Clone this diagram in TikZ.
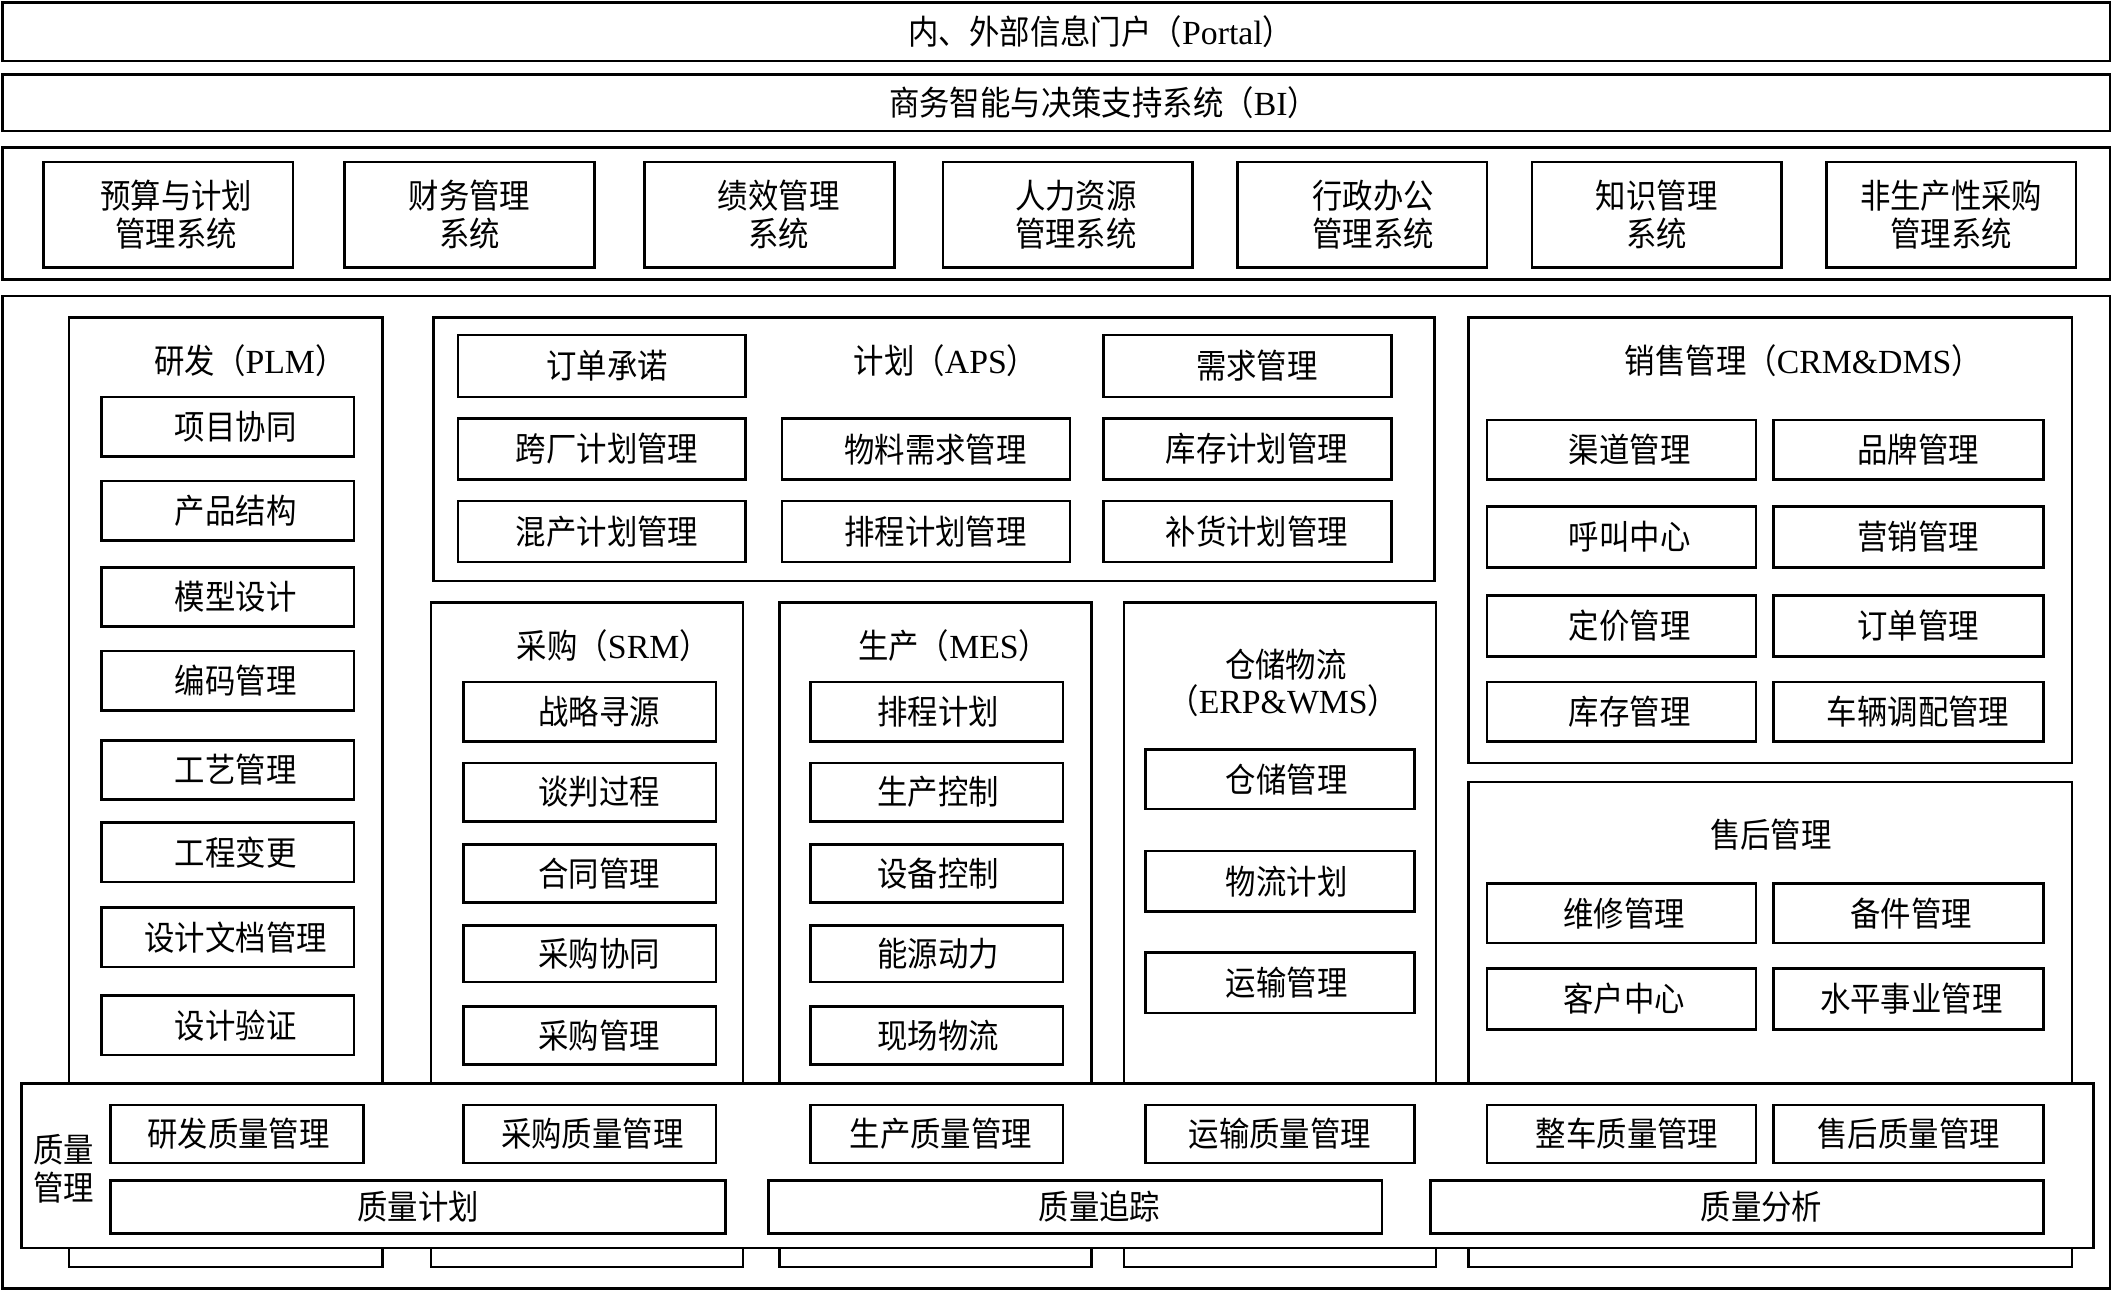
\documentclass[tikz,border=0pt]{standalone}
\usepackage{fontspec}
\setmainfont{Liberation Serif}
\newfontfamily\cjk[FakeStretch=0.9]{Noto Sans CJK SC}
\newcommand\ltn[1]{{\rmfamily #1}}
\tikzset{
  box/.style={draw, line width=1.9pt, fill=white, inner sep=0pt},
  cont/.style={draw, line width=1.9pt, fill=white, inner sep=0pt},
  lbl/.style={inner sep=0pt, align=center, font=\cjk\fontsize{25}{28}\selectfont},
  ttl/.style={inner sep=0pt, align=center, font=\cjk\fontsize{25}{28}\selectfont}
}
\newcommand\bx[7][0]{\node[box, minimum width={(#5-#3)*1pt}, minimum height={(#6-#4)*1pt}] (#2) at ({(#3+#5)/2},{(#4+#6)/2}) {};
  \node[lbl] (#2t) at ([xshift=#1pt]#2.center) {#7};}
\newcommand\ct[5]{\node[cont, minimum width={(#4-#2)*1pt}, minimum height={(#5-#3)*1pt}] (#1) at ({(#2+#4)/2},{(#3+#5)/2}) {};}
\begin{document}
\begin{tikzpicture}[x=1pt,y=-1pt]
\useasboundingbox (0,0) rectangle (1568,956);
% top bands
\bx[33]{portal}{2}{2}{1562}{45}{内、外部信息门户（\ltn{Portal}）}
\bx[35]{bi}{2}{55}{1562}{97}{商务智能与决策支持系统（\ltn{BI}）}
\ct{band}{2}{109}{1562}{207}
\bx[6]{s1}{32}{120}{217}{198}{预算与计划\\管理系统}
\bx{s2}{255}{120}{440}{198}{财务管理\\系统}
\bx[7]{s3}{477}{120}{662}{198}{绩效管理\\系统}
\bx[6]{s4}{698}{120}{883}{198}{人力资源\\管理系统}
\bx[8]{s5}{916}{120}{1101}{198}{行政办公\\管理系统}
\bx{s6}{1134}{120}{1319}{198}{知识管理\\系统}
\bx{s7}{1352}{120}{1537}{198}{非生产性采购\\管理系统}
% main band
\ct{main}{2}{219}{1562}{954}
% PLM
\ct{plm}{51}{235}{283}{938}
\node[ttl] (plmt) at (185,267) {研发（\ltn{PLM}）};
\bx[6]{p1}{75}{294}{262}{338}{项目协同}
\bx[6]{p2}{75}{356}{262}{400}{产品结构}
\bx[6]{p3}{75}{420}{262}{464}{模型设计}
\bx[6]{p4}{75}{482}{262}{526}{编码管理}
\bx[6]{p5}{75}{548}{262}{592}{工艺管理}
\bx[6]{p6}{75}{609}{262}{653}{工程变更}
\bx[6]{p7}{75}{672}{262}{716}{设计文档管理}
\bx[6]{p8}{75}{737}{262}{781}{设计验证}
% APS
\ct{aps}{321}{235}{1062}{430}
\node[ttl] (apst) at (700,267) {计划（\ltn{APS}）};
\bx[4]{a1}{339}{248}{552}{294}{订单承诺}
\bx[7]{a2}{817}{248}{1030}{294}{需求管理}
\bx[4]{a3}{339}{310}{552}{355}{跨厂计划管理}
\bx[7]{a4}{579}{310}{792}{355}{物料需求管理}
\bx[7]{a5}{817}{310}{1030}{355}{库存计划管理}
\bx[4]{a6}{339}{371}{552}{416}{混产计划管理}
\bx[7]{a7}{579}{371}{792}{416}{排程计划管理}
\bx[7]{a8}{817}{371}{1030}{416}{补货计划管理}
% SRM
\ct{srm}{319}{446}{550}{938}
\node[ttl] (srmt) at (454,478) {采购（\ltn{SRM}）};
\bx[7]{r1}{343}{505}{530}{549}{战略寻源}
\bx[7]{r2}{343}{565}{530}{608}{谈判过程}
\bx[7]{r3}{343}{625}{530}{668}{合同管理}
\bx[7]{r4}{343}{685}{530}{727}{采购协同}
\bx[7]{r5}{343}{745}{530}{788}{采购管理}
% MES
\ct{mes}{577}{446}{808}{938}
\node[ttl] (mest) at (706,478) {生产（\ltn{MES}）};
\bx[1]{m1}{600}{505}{787}{549}{排程计划}
\bx[1]{m2}{600}{565}{787}{608}{生产控制}
\bx[1]{m3}{600}{625}{787}{668}{设备控制}
\bx[1]{m4}{600}{685}{787}{727}{能源动力}
\bx[1]{m5}{600}{745}{787}{788}{现场物流}
% Warehouse
\ct{wms}{832}{446}{1063}{938}
\node[ttl] (wmst) at (952,492) {仓储物流};
\node[ttl] (wmst2) at (950,519) {（\ltn{ERP\&WMS}）};
\bx[5]{w1}{848}{555}{1047}{599}{仓储管理}
\bx[5]{w2}{848}{630}{1047}{675}{物流计划}
\bx[5]{w3}{848}{705}{1047}{750}{运输管理}
% Sales
\ct{crm}{1087}{235}{1534}{565}
\node[ttl] (crmt) at (1335,267) {销售管理（\ltn{CRM\&DMS}）};
\bx[6]{c1}{1101}{311}{1300}{355}{渠道管理}
\bx[7]{c2}{1313}{311}{1513}{355}{品牌管理}
\bx[6]{c3}{1101}{375}{1300}{420}{呼叫中心}
\bx[7]{c4}{1313}{375}{1513}{420}{营销管理}
\bx[6]{c5}{1101}{441}{1300}{486}{定价管理}
\bx[7]{c6}{1313}{441}{1513}{486}{订单管理}
\bx[6]{c7}{1101}{505}{1300}{549}{库存管理}
\bx[7]{c8}{1313}{505}{1513}{549}{车辆调配管理}
% After-sales
\ct{aft}{1087}{579}{1534}{938}
\node[ttl] (aftt) at (1311,618) {售后管理};
\bx[2]{f1}{1101}{654}{1300}{698}{维修管理}
\bx[2]{f2}{1313}{654}{1513}{698}{备件管理}
\bx[2]{f3}{1101}{717}{1300}{762}{客户中心}
\bx[2]{f4}{1313}{717}{1513}{762}{水平事业管理}
% Quality
\ct{qm}{16}{802}{1550}{924}
\node[ttl] (qmt) at (47,865) {质量\\管理};
\bx[1]{q1}{82}{818}{269}{861}{研发质量管理}
\bx[2]{q2}{343}{818}{530}{861}{采购质量管理}
\bx[3]{q3}{600}{818}{787}{861}{生产质量管理}
\bx{q4}{848}{818}{1047}{861}{运输质量管理}
\bx[4]{q5}{1101}{818}{1300}{861}{整车质量管理}
\bx{q6}{1313}{818}{1513}{861}{售后质量管理}
\bx{q7}{82}{874}{537}{913}{质量计划}
\bx[18]{q8}{569}{874}{1023}{913}{质量追踪}
\bx[18]{q9}{1059}{874}{1513}{913}{质量分析}
\end{tikzpicture}
\end{document}
